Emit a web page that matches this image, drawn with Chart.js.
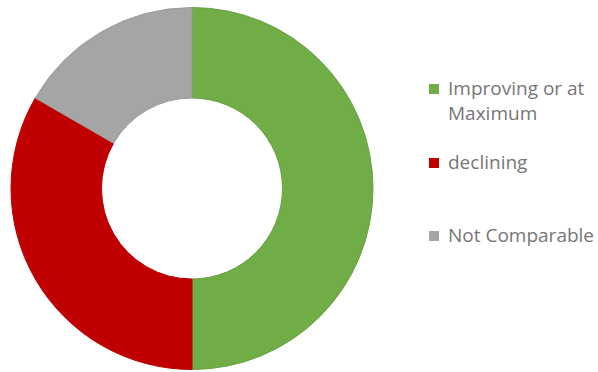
<!DOCTYPE html>
<html>
<head>
<meta charset="utf-8">
<script src="https://cdn.jsdelivr.net/npm/chart.js@4/dist/chart.umd.min.js"></script>
<style>
  html, body { margin: 0; padding: 0; background: #ffffff; }
  #wrap { position: relative; width: 598px; height: 372px; overflow: hidden; }
  #chartBox { position: absolute; left: 0; top: 0; width: 384px; height: 372px; }
  .leg { position: absolute; left: 429px; font-family: "Open Sans", sans-serif; font-size: 19px; line-height: 25px; color: #767676; white-space: nowrap; }
  .leg .sw { position: absolute; left: 0; top: 8px; width: 10px; height: 10px; }
  .leg .tx { position: absolute; left: 19px; top: 0; }
</style>
</head>
<body>
<div id="wrap">
  <div id="chartBox"><canvas id="c"></canvas></div>
  <div id="legend"></div>
</div>
<script>
const categories = ["Improving or at Maximum", "declining", "Not Comparable"];
const legendLines = [["Improving or at", "Maximum"], ["declining"], ["Not Comparable"]];
const values = [3, 2, 1];
const fillColors = ["#70AD47", "#C00000", "#A5A5A5"];
const edgeColors = ["#66A03F", "#B80000", "#9C9C9C"];

const legendTops = [76, 150, 223];
const legend = document.getElementById('legend');
categories.forEach((cat, i) => {
  const d = document.createElement('div');
  d.className = 'leg';
  d.style.top = legendTops[i] + 'px';
  const sw = document.createElement('div');
  sw.className = 'sw';
  sw.style.background = fillColors[i];
  const tx = document.createElement('div');
  tx.className = 'tx';
  tx.innerHTML = legendLines[i].join('<br>');
  d.appendChild(sw);
  d.appendChild(tx);
  legend.appendChild(d);
});

new Chart(document.getElementById('c'), {
  type: 'doughnut',
  data: {
    labels: categories,
    datasets: [{
      data: values,
      backgroundColor: fillColors,
      borderColor: edgeColors,
      borderWidth: 1
    }]
  },
  options: {
    responsive: true,
    maintainAspectRatio: false,
    animation: false,
    cutout: '50%',
    layout: { padding: { top: 7, bottom: 2, left: 0, right: 0 } },
    plugins: {
      legend: { display: false },
      tooltip: { enabled: false }
    }
  }
});
</script>
</body>
</html>
